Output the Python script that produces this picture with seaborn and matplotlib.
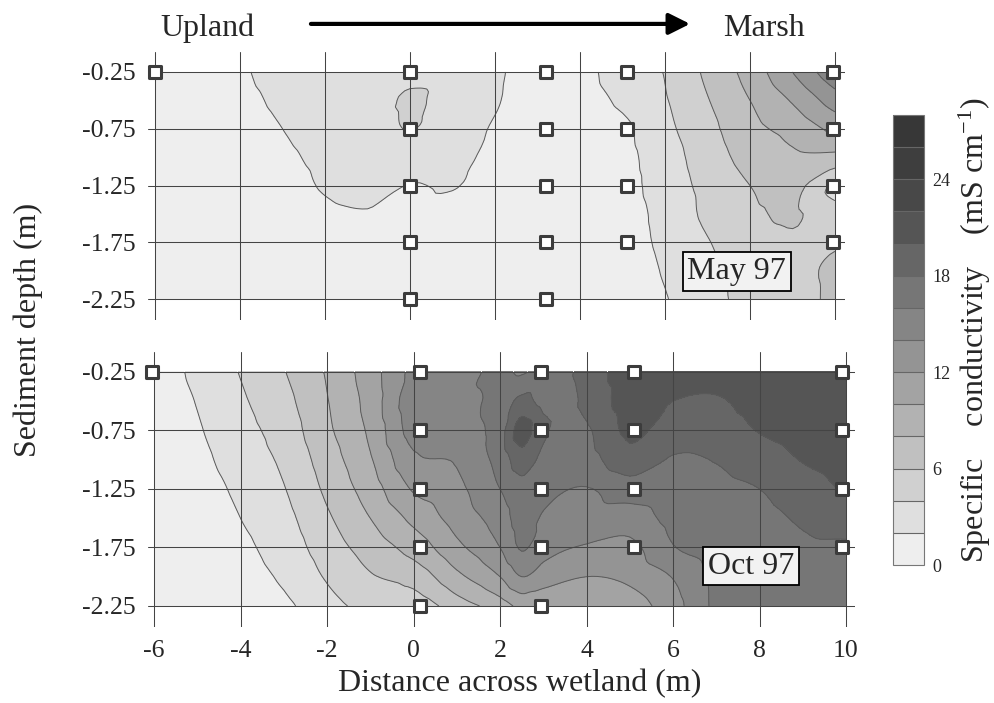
import numpy as np
import pandas as pd
import matplotlib
matplotlib.use("Agg")
import matplotlib.pyplot as plt
import matplotlib.tri as mtri
import seaborn as sns

# -----------------------------
# Data
# -----------------------------

# distance across wetland (m) and sediment depth (m) of the gridded field
dist = [-6, -5, -4, -3, -2, -1, 0, 1, 2, 2.5, 3, 4, 5, 6, 7, 8, 9, 10]
depth = [-0.25, -0.5, -0.75, -1.0, -1.25, -1.5, -1.75, -2.0, -2.25]

# specific conductivity (mS/cm), one row per depth, May 97
may_rows = [
    [1.0, 1.2, 1.8, 2.6, 3.0, 3.2, 3.6, 3.4, 2.4, 1.6, 1.1, 1.5, 2.8, 4.1, 6.4, 8.8, 12.0, 15.5],
    [1.0, 1.1, 1.6, 2.3, 2.9, 3.2, 4.2, 3.3, 2.2, 1.5, 1.1, 1.4, 2.3, 3.85, 5.9, 8.0, 10.2, 13.0],
    [1.0, 1.1, 1.4, 2.0, 2.7, 3.1, 4.05, 3.0, 1.8, 1.3, 1.1, 1.2, 1.65, 3.5, 5.4, 7.4, 8.7, 10.5],
    [1.0, 1.1, 1.2, 1.7, 2.4, 3.0, 3.0, 2.6, 1.5, 1.2, 1.1, 1.2, 1.5, 3.1, 5.0, 6.7, 7.6, 7.5],
    [1.0, 1.0, 1.1, 1.4, 2.15, 2.6, 1.95, 2.1, 1.3, 1.1, 1.1, 1.2, 1.4, 2.9, 4.6, 6.0, 6.7, 3.5],
    [1.0, 1.0, 1.0, 1.2, 1.7, 1.9, 1.6, 1.5, 1.2, 1.1, 1.1, 1.1, 1.3, 2.6, 4.4, 5.6, 6.2, 5.0],
    [1.0, 1.0, 1.0, 1.1, 1.4, 1.5, 1.4, 1.3, 1.1, 1.0, 1.0, 1.1, 1.3, 2.4, 3.9, 5.0, 5.8, 5.8],
    [1.0, 1.0, 1.0, 1.0, 1.2, 1.3, 1.3, 1.2, 1.1, 1.0, 1.0, 1.0, 1.2, 2.15, 3.6, 4.6, 5.3, 6.5],
    [1.0, 1.0, 1.0, 1.0, 1.1, 1.2, 1.2, 1.1, 1.0, 1.0, 1.0, 1.0, 1.2, 1.9, 3.4, 4.5, 5.0, 6.6],
]

# Oct 97
oct_rows = [
    [0.7, 2.5, 4.1, 5.9, 8.2, 11.1, 14.5, 15.0, 16.5, 15.8, 16.8, 18.6, 21.3, 21.0, 20.8, 21.5, 21.7, 21.8],
    [0.6, 2.1, 3.7, 5.4, 7.9, 10.8, 15.2, 15.3, 16.8, 18.5, 17.5, 18.3, 21.0, 20.0, 19.8, 20.8, 21.3, 21.6],
    [0.5, 1.8, 3.3, 4.9, 7.6, 10.4, 14.8, 15.0, 17.2, 21.0, 18.3, 17.8, 20.4, 19.0, 19.0, 20.1, 20.8, 21.2],
    [0.5, 1.5, 2.9, 4.4, 7.0, 9.8, 13.6, 14.2, 16.8, 19.0, 17.5, 17.3, 19.3, 17.8, 18.1, 19.0, 20.1, 20.7],
    [0.5, 1.2, 2.4, 3.9, 6.4, 9.0, 12.2, 13.5, 16.0, 17.3, 16.6, 15.9, 17.0, 17.2, 17.5, 18.0, 19.2, 20.2],
    [0.5, 1.0, 2.0, 3.4, 5.7, 8.0, 10.5, 12.8, 15.0, 16.8, 15.8, 15.3, 15.0, 16.6, 17.0, 17.4, 18.3, 19.2],
    [0.5, 0.9, 1.6, 2.9, 5.0, 6.9, 8.8, 11.5, 14.0, 16.2, 14.8, 13.8, 13.5, 15.9, 16.8, 17.0, 17.6, 17.6],
    [0.5, 0.8, 1.3, 2.3, 4.2, 5.8, 6.8, 9.5, 12.0, 14.0, 13.0, 12.0, 12.5, 14.1, 16.5, 16.8, 17.2, 17.2],
    [0.5, 0.7, 1.0, 1.6, 3.3, 4.6, 4.8, 7.0, 9.0, 10.5, 10.5, 10.0, 11.0, 13.2, 16.4, 16.8, 17.0, 17.0],
]

# sampling wells (piezometers)
may_x = [-6, 0, 0, 0, 0, 0, 3.2, 3.2, 3.2, 3.2, 3.2, 5.1, 5.1, 5.1, 5.1, 9.95, 9.95, 9.95, 9.95]
may_z = [-0.25, -0.25, -0.75, -1.25, -1.75, -2.25, -0.25, -0.75, -1.25, -1.75, -2.25,
         -0.25, -0.75, -1.25, -1.75, -0.25, -0.75, -1.25, -1.75]
oct_x = [-6.05, 0.15, 0.15, 0.15, 0.15, 0.15, 2.95, 2.95, 2.95, 2.95, 2.95, 5.1, 5.1, 5.1, 5.1, 9.9, 9.9, 9.9, 9.9]
oct_z = may_z

levels = list(range(0, 30, 2))
# grey of each 2 mS/cm band, light to dark
band_greys = ["#eeeeee", "#dfdfdf", "#d0d0d0", "#c0c0c0", "#b2b2b2", "#a3a3a3", "#949494",
              "#858585", "#767676", "#666666", "#555555", "#484848", "#3e3e3e", "#373737"]
cbar_ticks = [0, 6, 12, 18, 24]
depth_ticks = [-0.25, -0.75, -1.25, -1.75, -2.25]
dist_ticks = [-6, -4, -2, 0, 2, 4, 6, 8, 10]

# -----------------------------
# Style
# -----------------------------

sns.set_style("white")
plt.rcParams['font.family'] = ['Liberation Serif', 'DejaVu Serif']
plt.rcParams['mathtext.fontset'] = 'custom'
plt.rcParams['mathtext.rm'] = 'Liberation Serif'
plt.rcParams['mathtext.it'] = 'Liberation Serif:italic'

fig = plt.figure(figsize=(9.94, 7.03), dpi=100)
ax_top = fig.add_axes([0.1489, 0.5448, 0.7012, 0.3812])
ax_bot = fig.add_axes([0.1489, 0.1081, 0.7113, 0.3912])
cax = fig.add_axes([0.8984, 0.1963, 0.0312, 0.640])

# triangulated grid (two triangles per cell), smoothed by matplotlib's refiner
nx, nz = len(dist), len(depth)
gx, gz = np.meshgrid(dist, depth)
tris = []
for j in range(nz - 1):
    for i in range(nx - 1):
        a = j * nx + i
        tris.append([a, a + 1, a + nx])
        tris.append([a + 1, a + nx + 1, a + nx])
triang = mtri.Triangulation(gx.ravel(), gz.ravel(), tris)
refiner = mtri.UniformTriRefiner(triang)


def panel(ax, rows, px, pz, label, lab_xy, xlim, ylim):
    z = np.array(rows, dtype=float).ravel()
    interp = mtri.CubicTriInterpolator(triang, z, kind="geom")
    t2, z2 = refiner.refine_field(z, triinterpolator=interp, subdiv=3)
    cf = ax.tricontourf(t2, z2, levels=levels, colors=band_greys)
    ax.tricontour(t2, z2, levels=levels[1:-1], colors="#5a5a5a", linewidths=0.7)
    wells = pd.DataFrame({"x": px, "z": pz})
    sns.scatterplot(data=wells, x="x", y="z", marker="s", s=75, color="white",
                    edgecolor="#3c3c3c", linewidth=2.2, ax=ax, zorder=5, clip_on=False)
    ax.set_xlim(*xlim)
    ax.set_ylim(*ylim)
    ax.set_xticks(dist_ticks)
    ax.set_yticks(depth_ticks)
    ax.set_yticklabels([f"{v:.2f}" for v in depth_ticks])
    ax.grid(True, color="#444444", linewidth=0.75)
    ax.set_axisbelow(False)
    ax.tick_params(length=0, labelsize=18.5, pad=9)
    for s in ax.spines.values():
        s.set_visible(False)
    ax.set_xlabel("")
    ax.set_ylabel("")
    ax.text(lab_xy[0], lab_xy[1], label, fontsize=23, ha="center", va="center", zorder=6,
            bbox=dict(boxstyle="square,pad=0.15", facecolor="#f2f2f2", edgecolor="black", linewidth=1.3))
    return cf


cf = panel(ax_top, may_rows, may_x, may_z, "May 97", (7.69, -2.01), (-6.165, 10.235), (-2.435, -0.074))
panel(ax_bot, oct_rows, oct_x, oct_z, "Oct 97", (7.80, -1.91), (-6.139, 10.208), (-2.43, -0.079))
ax_top.set_xticklabels([])
ax_bot.set_xticklabels([str(v) for v in dist_ticks])

# colour bar
cbar = fig.colorbar(cf, cax=cax, ticks=cbar_ticks, drawedges=True)
cbar.outline.set_edgecolor("#777777")
cbar.outline.set_linewidth(0.8)
cbar.dividers.set_color("#666666")
cbar.dividers.set_linewidth(0.8)
cbar.ax.tick_params(length=0, labelsize=13, pad=6)
fig.text(0.981, 0.53, "Specific    conductivity    (mS cm$^{-1}$)", rotation=90,
         fontsize=23, ha="center", va="center")

# axis labels
fig.text(0.523, 0.028, "Distance across wetland (m)", fontsize=23, ha="center", va="center")
fig.text(0.028, 0.53, "Sediment depth (m)", fontsize=23, ha="center", va="center", rotation=90)

# upland -> marsh arrow
fig.text(0.161, 0.960, "Upland", fontsize=23, ha="left", va="center")
fig.text(0.727, 0.960, "Marsh", fontsize=23, ha="left", va="center")
fig.patches.append(matplotlib.patches.FancyArrowPatch(
    (0.31, 0.966), (0.697, 0.966), transform=fig.transFigure, arrowstyle="-|>",
    mutation_scale=32, linewidth=3, color="black"))

fig.savefig("out.png", dpi=100)
plt.close()
